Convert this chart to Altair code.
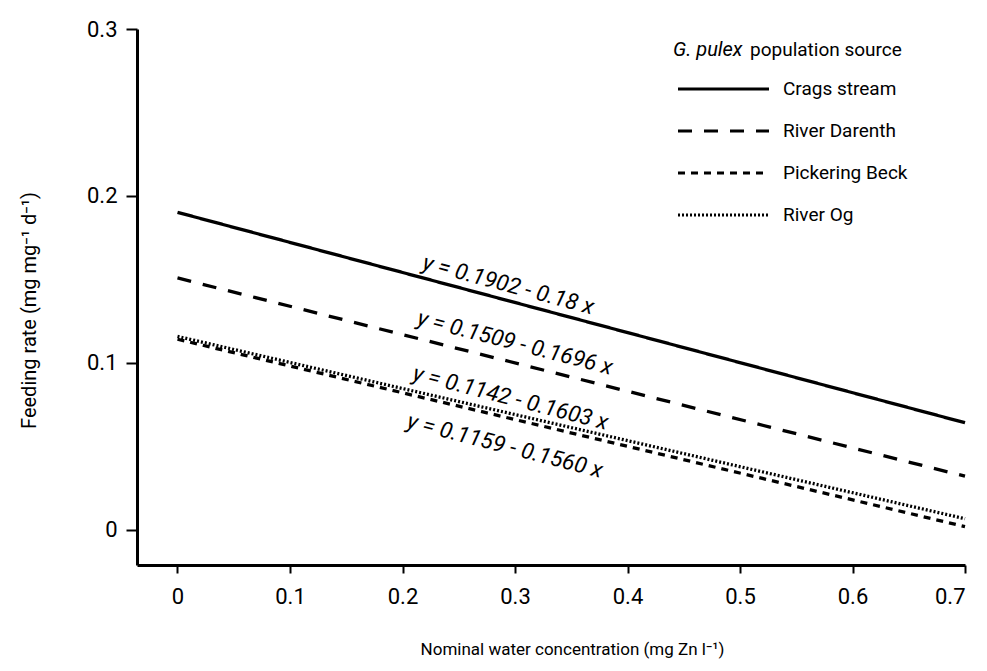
import altair as alt
import pandas as pd

# Fitted regressions: feeding rate = intercept - slope * zinc concentration
sources = ["Crags stream", "River Darenth", "Pickering Beck", "River Og"]
intercepts = [0.1902, 0.1509, 0.1142, 0.1159]
slopes = [0.18, 0.1696, 0.1603, 0.1560]
x_start, x_end = 0.0, 0.7

# Equation labels: placement along each line (data units) and tilt
label_text = [
    "y = 0.1902 - 0.18 x",
    "y = 0.1509 - 0.1696 x",
    "y = 0.1142 - 0.1603 x",
    "y = 0.1159 - 0.1560 x",
]
label_x = [0.294, 0.300, 0.296, 0.291]
label_y = [0.1467, 0.112, 0.079, 0.0503]
label_angle = [15, 14.5, 14.5, 14.5]

dash_styles = [[1, 0], [14, 12], [7, 6], [2, 2]]

FONT = "Roboto, sans-serif"

rows = []
for s, b, m in zip(sources, intercepts, slopes):
    for xv in (x_start, x_end):
        rows.append({"source": s, "conc": xv, "rate": b - m * xv})
lines_df = pd.DataFrame(rows)

labels_df = pd.DataFrame(
    {"text": label_text, "conc": label_x, "rate": label_y, "angle": label_angle}
)

legend_df = pd.DataFrame({"source": sources, "row": list(range(len(sources)))})

x_scale = alt.Scale(domain=[-0.036, 0.7], nice=False, zero=False)
y_scale = alt.Scale(domain=[-0.021, 0.3], nice=False, zero=False)
dash_scale = alt.Scale(domain=sources, range=dash_styles)
legend_rows = alt.Scale(domain=[0, 3], range=[60, 186])

x_axis = alt.Axis(
    values=[0, 0.1, 0.2, 0.3, 0.4, 0.5, 0.6, 0.7],
    format="~g",
    title="Nominal water concentration (mg Zn l⁻¹)",
    titleX=435,
    titleY=84,
    titleBaseline="middle",
    titleFontSize=17,
    tickSize=8,
    labelPadding=13,
)
y_axis = alt.Axis(
    values=[0, 0.1, 0.2, 0.3],
    format="~g",
    title="Feeding rate (mg mg⁻¹ d⁻¹)",
    titleX=-108,
    titleY=281,
    titleBaseline="middle",
    titleFontSize=20,
    tickSize=11,
    labelPadding=9,
)

lines = (
    alt.Chart(lines_df)
    .mark_line(color="black", strokeWidth=3.3, strokeCap="butt")
    .encode(
        x=alt.X("conc:Q", scale=x_scale, axis=x_axis),
        y=alt.Y("rate:Q", scale=y_scale, axis=y_axis),
        detail="source:N",
        strokeDash=alt.StrokeDash("source:N", scale=dash_scale, legend=None),
    )
)

eq_labels = (
    alt.Chart(labels_df)
    .mark_text(font=FONT, fontSize=22.5, fontStyle="italic", color="black")
    .encode(
        x=alt.X("conc:Q", scale=x_scale),
        y=alt.Y("rate:Q", scale=y_scale),
        text="text:N",
        angle=alt.Angle("angle:Q", scale=None),
    )
)

# Legend: one row per population source
legend_keys = (
    alt.Chart(legend_df)
    .mark_rule(color="black", strokeWidth=3, strokeCap="butt")
    .encode(
        x=alt.value(541),
        x2=alt.value(632),
        y=alt.Y("row:Q", scale=legend_rows, axis=None),
        strokeDash=alt.StrokeDash("source:N", scale=dash_scale, legend=None),
    )
)
legend_labels = (
    alt.Chart(legend_df)
    .mark_text(font=FONT, fontSize=19, align="left", baseline="middle", color="black")
    .encode(
        x=alt.value(646),
        y=alt.Y("row:Q", scale=legend_rows, axis=None),
        text="source:N",
    )
)

title_italic = alt.Chart(pd.DataFrame({"t": ["G. pulex"]})).mark_text(
    font=FONT, fontSize=20, fontStyle="italic", align="left", baseline="alphabetic",
    color="black",
).encode(x=alt.value(536), y=alt.value(27), text="t:N")

title_rest = alt.Chart(pd.DataFrame({"t": ["population source"]})).mark_text(
    font=FONT, fontSize=19, align="left", baseline="alphabetic", color="black",
).encode(x=alt.value(613), y=alt.value(27), text="t:N")

main = alt.layer(lines, eq_labels)
legend = alt.layer(legend_keys, legend_labels)

chart = (
    alt.layer(main, legend, title_italic, title_rest)
    .resolve_scale(y="independent")
    .properties(
        width=828,
        height=536,
        autosize=alt.AutoSizeParams(type="none"),
        padding={"left": 137, "top": 29, "right": 22, "bottom": 106},
        background="white",
    )
    .configure_view(stroke=None)
    .configure_axis(
        grid=False,
        domainColor="black",
        domainWidth=3,
        tickColor="black",
        tickWidth=2,
        labelFont=FONT,
        labelFontSize=22,
        labelColor="black",
        titleFont=FONT,
        titleFontWeight="normal",
        titleColor="black",
    )
)

chart.save("out.html", embed_options={"renderer": "svg", "actions": False})
